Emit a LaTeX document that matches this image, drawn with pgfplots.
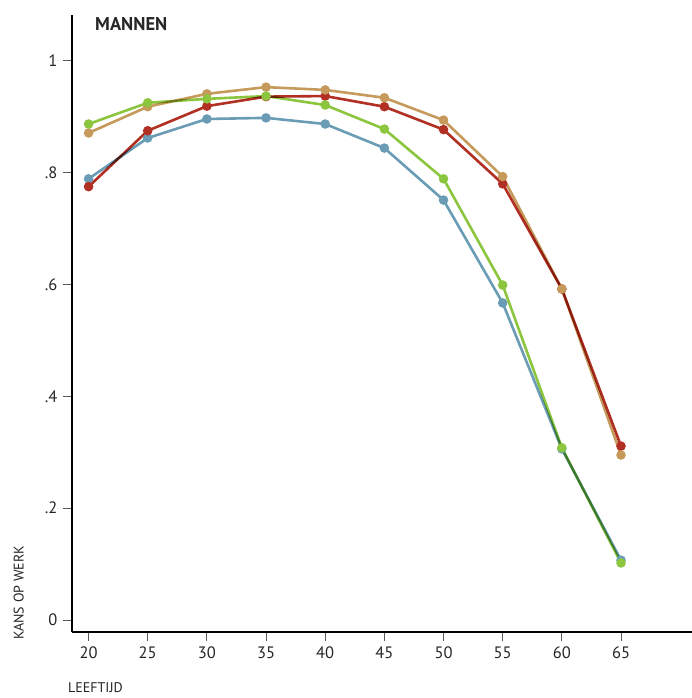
\documentclass[border=0pt]{standalone}
\usepackage{fontspec}
\setmainfont{PT Sans}
\usepackage{pgfplots}
\pgfplotsset{compat=1.18}
\definecolor{cblue}{HTML}{6A9DB5}
\definecolor{cred}{HTML}{B22F23}
\definecolor{ctan}{HTML}{C59A5B}
\definecolor{cgreen}{HTML}{8CC63F}
\begin{document}
\begin{tikzpicture}
\fill[white] (-72bp,-66bp) rectangle (620bp,632bp);
\begin{axis}[
  at={(0,0)}, anchor=south west,
  scale only axis, width=620bp, height=617bp,
  xmin=18.6, xmax=71.0, ymin=-0.0215, ymax=1.082,
  axis x line=bottom, axis y line=left,
  axis line style={black, line width=1.2pt, -},
  xtick={20,25,...,65}, ytick={0,0.2,0.4,0.6,0.8,1},
  yticklabels={0,.2,.4,.6,.8,1},
  tick align=outside, major tick length=9bp,
  tick style={gray!70!black, line width=0.8pt},
  ticklabel style={font=\fontsize{16.5bp}{18bp}\selectfont, text=black!85},
  /pgf/number format/assume math mode=true,
  xticklabel style={yshift=-2bp},
  yticklabel style={xshift=-2bp},
  every axis plot/.append style={line width=2.6bp, blend mode=multiply, mark=*, mark size=3.4bp, mark options={solid, draw=none, blend mode=normal}},
  clip=false,
]
\addplot[color=cblue] coordinates {(20,0.789) (25,0.862) (30,0.896) (35,0.898) (40,0.887) (45,0.844) (50,0.751) (55,0.567) (60,0.306) (65,0.107)};
\addplot[color=cred] coordinates {(20,0.775) (25,0.875) (30,0.919) (35,0.936) (40,0.937) (45,0.918) (50,0.877) (55,0.780) (60,0.592) (65,0.311)};
\addplot[color=ctan] coordinates {(20,0.871) (25,0.918) (30,0.941) (35,0.953) (40,0.948) (45,0.934) (50,0.894) (55,0.793) (60,0.592) (65,0.295)};
\addplot[color=cgreen] coordinates {(20,0.887) (25,0.925) (30,0.932) (35,0.937) (40,0.921) (45,0.878) (50,0.789) (55,0.599) (60,0.308) (65,0.102)};
\coordinate (sw) at (rel axis cs:0,0);
\coordinate (nw) at (rel axis cs:0,1);
\coordinate (ne) at (rel axis cs:1,1);
\end{axis}
\node[anchor=north west, inner sep=0pt, font=\bfseries\fontsize{18.5bp}{20bp}\selectfont, text=black!85] at ([shift={(23bp,-2bp)}]nw) {MANNEN};
\node[anchor=north west, inner sep=0pt, font=\fontsize{14bp}{16bp}\selectfont, text=black!85] at ([shift={(-4bp,-50bp)}]sw) {LEEFTIJD};
\node[rotate=90, anchor=south west, inner sep=0pt, font=\fontsize{14bp}{16bp}\selectfont, text=black!85] at ([shift={(-48bp,-8bp)}]sw) {KANS OP WERK};
\pgfresetboundingbox
\path ([shift={(-72bp,-66bp)}]sw) rectangle ([shift={(0bp,15bp)}]ne);
\end{tikzpicture}
\end{document}
